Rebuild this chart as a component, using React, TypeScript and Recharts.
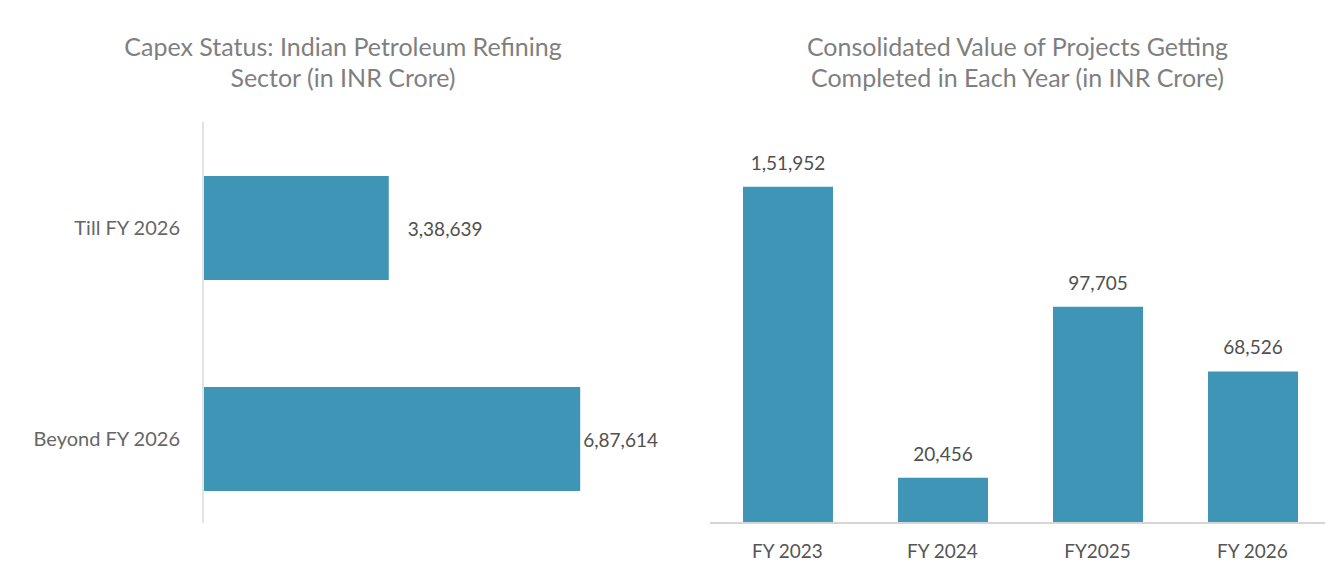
import React from 'react';
import { BarChart, Bar, XAxis, YAxis, LabelList } from 'recharts';

const leftCategories = ['Till FY 2026', 'Beyond FY 2026'];
const leftValues = [338639, 687614];
const leftLabels = ['3,38,639', '6,87,614'];

const rightCategories = ['FY 2023', 'FY 2024', 'FY2025', 'FY 2026'];
const rightValues = [151952, 20456, 97705, 68526];
const rightLabels = ['1,51,952', '20,456', '97,705', '68,526'];

const leftTitle = ['Capex Status: Indian Petroleum Refining', 'Sector (in INR Crore)'];
const rightTitle = ['Consolidated Value of Projects Getting', 'Completed in Each Year (in INR Crore)'];

const BAR_COLOR = '#3f95b6';
const FONT = 'Lato, "Open Sans", sans-serif';
const leftLabelGaps = [19, 3];

const leftData = leftCategories.map((c, i) => ({ name: c, value: leftValues[i], label: leftLabels[i] }));
const rightData = rightCategories.map((c, i) => ({ name: c, value: rightValues[i], label: rightLabels[i] }));

const LeftLabel = (p: any) => {
  const vb = p.viewBox ?? p;
  const i = leftLabels.indexOf(p.value);
  const gap = leftLabelGaps[i] ?? 5;
  return (
    <text
      x={vb.x + vb.width + gap}
      y={vb.y + vb.height / 2}
      dominantBaseline="central"
      textAnchor="start"
      fill="#505050"
      fontSize={19}
      fontFamily={FONT}
    >
      {p.value}
    </text>
  );
};

const titleStyle: React.CSSProperties = {
  position: 'absolute',
  top: 31,
  fontFamily: FONT,
  fontSize: 25,
  lineHeight: '31px',
  color: '#7f7f7f',
  textAlign: 'center',
  whiteSpace: 'nowrap',
};

export default function App() {
  return (
    <div style={{ position: 'absolute', left: 0, top: 0, width: 1325, height: 568, overflow: 'hidden', background: '#fff' }}>
      <div style={{ ...titleStyle, left: 0, width: 686 }}>
        {leftTitle[0]}<br />{leftTitle[1]}
      </div>
      <div style={{ ...titleStyle, left: 690, width: 655 }}>
        {rightTitle[0]}<br />{rightTitle[1]}
      </div>

      <div style={{ position: 'absolute', left: 0, top: 0 }}>
        <BarChart
          width={660}
          height={568}
          data={leftData}
          layout="vertical"
          margin={{ top: 122, right: 73, bottom: 45, left: 0 }}
        >
          <XAxis type="number" domain={[0, 700000]} hide />
          <YAxis
            type="category"
            dataKey="name"
            width={203}
            padding={{ top: 0, bottom: -21 }}
            tickLine={false}
            tickMargin={17}
            axisLine={{ stroke: '#e3e3e3', strokeWidth: 2 }}
            tick={{ fill: '#666', fontSize: 20, fontFamily: FONT }}
          />
          <Bar dataKey="value" fill={BAR_COLOR} barSize={104} isAnimationActive={false}>
            <LabelList dataKey="label" content={LeftLabel} />
          </Bar>
        </BarChart>
      </div>

      <div style={{ position: 'absolute', left: 660, top: 0 }}>
        <BarChart
          width={680}
          height={568}
          data={rightData}
          margin={{ top: 169, right: 10, bottom: 15, left: 50 }}
        >
          <XAxis
            dataKey="name"
            height={30}
            tickLine={false}
            tickMargin={16}
            axisLine={{ stroke: '#d6d6d6', strokeWidth: 2 }}
            tick={{ fill: '#555', fontSize: 19, fontFamily: FONT }}
          />
          <YAxis type="number" domain={[0, 160000]} hide />
          <Bar dataKey="value" fill={BAR_COLOR} barSize={90} isAnimationActive={false}>
            <LabelList
              dataKey="label"
              position="top"
              offset={17}
              fill="#505050"
              fontSize={19}
              fontFamily={FONT}
            />
          </Bar>
        </BarChart>
      </div>
    </div>
  );
}
